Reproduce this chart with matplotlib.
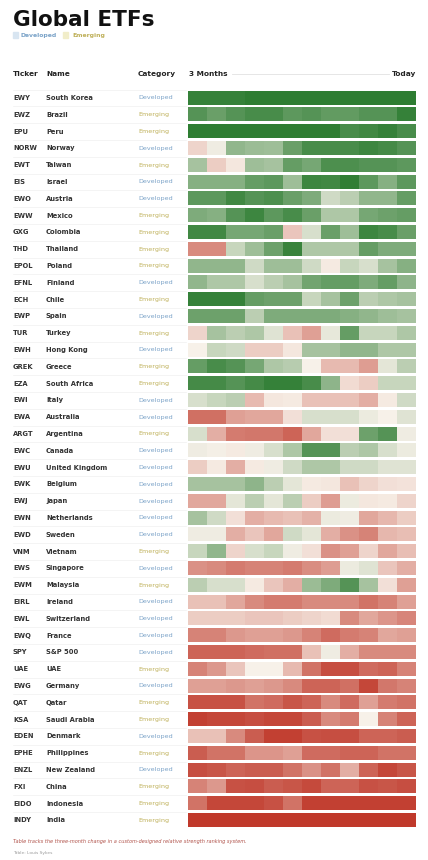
import numpy as np
import matplotlib
matplotlib.use("Agg")
import matplotlib.pyplot as plt
from matplotlib.colors import LinearSegmentedColormap, Normalize

plt.rcParams['font.family'] = ['DejaVu Sans']

tickers = ["EWY", "EWZ", "EPU", "NORW", "EWT", "EIS", "EWO", "EWW", "GXG", "THD",
           "EPOL", "EFNL", "ECH", "EWP", "TUR", "EWH", "GREK", "EZA", "EWI", "EWA",
           "ARGT", "EWC", "EWU", "EWK", "EWJ", "EWN", "EWD", "VNM", "EWS", "EWM",
           "EIRL", "EWL", "EWQ", "SPY", "UAE", "EWG", "QAT", "KSA", "EDEN", "EPHE",
           "ENZL", "FXI", "EIDO", "INDY"]
names = ["South Korea", "Brazil", "Peru", "Norway", "Taiwan", "Israel", "Austria", "Mexico",
         "Colombia", "Thailand", "Poland", "Finland", "Chile", "Spain", "Turkey", "Hong Kong",
         "Greece", "South Africa", "Italy", "Australia", "Argentina", "Canada", "United Kingdom",
         "Belgium", "Japan", "Netherlands", "Sweden", "Vietnam", "Singapore", "Malaysia",
         "Ireland", "Switzerland", "France", "S&P 500", "UAE", "Germany", "Qatar",
         "Saudi Arabia", "Denmark", "Philippines", "New Zealand", "China", "Indonesia", "India"]
categories = ["Developed", "Emerging", "Emerging", "Developed", "Emerging", "Developed",
              "Developed", "Emerging", "Emerging", "Emerging", "Emerging", "Developed",
              "Emerging", "Developed", "Emerging", "Developed", "Emerging", "Emerging",
              "Developed", "Developed", "Emerging", "Developed", "Developed", "Developed",
              "Developed", "Developed", "Developed", "Emerging", "Developed", "Emerging",
              "Developed", "Developed", "Developed", "Developed", "Emerging", "Developed",
              "Emerging", "Emerging", "Developed", "Emerging", "Developed", "Emerging",
              "Emerging", "Emerging"]

# relative-strength score per week (-5 weakest ... +5 strongest), 12 weeks
south_korea = [4.8, 4.8, 4.8, 5, 5, 5, 5, 5, 5, 5, 5, 5]
brazil = [4, 3.5, 4, 4.3, 4.3, 3.8, 4, 3.7, 3.7, 4, 4, 4.8]
peru = [5, 5, 5, 5, 5, 5, 5, 5, 4.3, 4.5, 4.8, 4.3]
norway = [-0.8, 0.2, 2.5, 2.3, 2.2, 3.5, 4.3, 4.3, 4.3, 4.6, 4.4, 4.0]
taiwan = [2, -1, -0.3, 2.2, 2, 3.6, 3.2, 4.2, 4.2, 4, 4, 3.8]
israel = [2.8, 2.8, 2.8, 3.6, 3.8, 2.2, 4.6, 4.5, 4.9, 3.8, 2.8, 3.8]
austria = [3.8, 3.8, 4.5, 4, 4.2, 3.5, 3, 1, 1.5, 2.5, 2.5, 3.6]
mexico = [3, 2.8, 4, 4.6, 3.8, 4.3, 3.5, 1.8, 1.8, 3.2, 3.4, 3.6]
colombia = [4.5, 4.5, 3.2, 3.2, 3.5, -1.2, 0.8, 3.5, 2.2, 4.6, 4.3, 3.5]
thailand = [-2.8, -2.8, 1.2, 2.2, 3.4, 4.7, 1.8, 1.8, 1.8, 3.6, 3, 3]
poland = [2.5, 2.5, 2.5, 1, 2.2, 2.2, 1, -0.2, 1.2, 0.8, 2, 2.8]
finland = [2.5, 1.8, 1.8, 0.8, 1.5, 2, 3.3, 3.6, 3.6, 3, 3.6, 2.6]
chile = [4.8, 4.8, 4.8, 3.6, 3.4, 3.4, 1.2, 2, 3.4, 1.5, 1.8, 2]
spain = [3.4, 3.4, 3.4, 1.5, 3, 3, 3, 3, 2.8, 2.5, 2.2, 2]
turkey = [-0.8, 2, 1.5, 1.8, 0.6, -1.3, -2.2, 0.4, 3.6, 1.2, 1.2, 1.8]
hong_kong = [0, 1.2, 1, -1, -1, -0.3, 2, 2, 2.5, 2.5, 1.8, 1.8]
greece = [3.6, 4.3, 4, 3.2, 1.8, 1.6, 0, -1.5, -1.5, -2.3, 0.5, 1.5]
south_africa = [4.4, 4.4, 4, 4.4, 4.8, 4.8, 4.3, 2.6, -0.6, -1, 1.2, 1.2]
italy = [0.8, 1.2, 1.5, -1.5, -0.3, -0.2, -1.3, -1.3, -1.3, -1.8, -0.2, 1]
australia = [-3.5, -3.5, -2.2, -2, -2, -0.5, 0.8, 0.8, 0.8, 0.3, 0, 0.6]
argentina = [0.8, -1.8, -3.2, -3.3, -3.3, -3.8, -2, -0.5, -0.5, 3.4, 4, 0.2]
canada = [0.2, 0.1, -0.2, 0.2, 0.8, 1.8, 4, 4, 1.5, 1.8, 0.8, 0.3]
united_kingdom = [-1, -0.2, -1.8, -0.2, 0.2, 1, 1.8, 1.8, 1, 1, 0.6, 0.6]
belgium = [2, 2, 2, 2.6, 1.5, 0.5, -0.2, -0.3, -1.3, -0.8, -0.5, -0.4]
japan = [-2, -2, 0.5, 1.5, 0.5, 1.5, -1, -2.3, 0.3, -0.3, -0.2, -0.8]
netherlands = [2, 1, -0.5, -1.8, -1.5, -1.3, -1.7, 0.3, 0.2, -2, -1.6, -1]
sweden = [0.2, 0.2, -1.8, -1.2, -2, 1, 0.5, -1.8, -2.6, -3, -1.6, -1.4]
vietnam = [1.2, 2.5, -0.8, 0.8, 1.2, 0.2, -0.5, -2.6, -2.2, -0.8, -2, -1.4]
singapore = [-2.6, -2.8, -3.2, -3, -3, -3.2, -2.7, -2.3, 0.3, 0.6, -1.2, -1.8]
malaysia = [1.5, 0.8, 0.8, -0.2, -1.2, -1.8, 2.3, 3, 4, 2, -0.5, -2.2]
ireland = [-1.3, -1.3, -2, -2.8, -3.2, -3.2, -2.8, -2.8, -2.8, -3.4, -3, -2.2]
switzerland = [-1, -1, -1, -1.2, -1.2, -1, -0.8, -0.6, -2.8, -2, -2.5, -2.9]
france = [-3, -3, -2.4, -2.2, -2.2, -2.4, -3, -3.6, -3.2, -3, -2, -2.2]
sp500 = [-3.8, -3.8, -3.8, -3.6, -3.5, -3.5, -1.3, 0.2, -1.8, -2.8, -2.8, -2.8]
uae = [-3, -2.4, -1.2, 0, 0, -1.5, -3.4, -4.4, -4.4, -3.6, -3.8, -3]
germany = [-2.2, -2.2, -2.4, -2.2, -2.4, -2.8, -3.8, -3.8, -3.5, -4.6, -3.3, -3]
qatar = [-4.3, -4.3, -4.3, -3.4, -3.6, -4.2, -3.8, -2.8, -3.6, -2.2, -3.2, -3.4]
saudi_arabia = [-4.8, -4.6, -4.6, -4.4, -4.6, -4.6, -4, -2.8, -3.2, 0, -3, -3.8]
denmark = [-1.3, -1.3, -2.8, -4, -4.8, -4.8, -4.3, -4.4, -4.4, -3.8, -3.8, -4]
philippines = [-4, -3.4, -3.4, -2.5, -2.5, -2.2, -3.6, -3.6, -3.8, -3.8, -3.4, -3.4]
new_zealand = [-4.4, -4.2, -3.8, -4, -4, -3.4, -2.6, -3.4, -1.8, -3.8, -4.6, -4.2]
china = [-3, -2.4, -4.3, -4.4, -4, -4.2, -4.5, -3.8, -3.8, -4.3, -4.2, -4.4]
indonesia = [-3.4, -4.6, -4.6, -4.6, -4.3, -3.4, -4.8, -4.8, -4.8, -4.8, -4.8, -4.8]
india = [-5, -5, -5, -5, -5, -5, -5, -5, -5, -5, -5, -5]

scores = [south_korea, brazil, peru, norway, taiwan, israel, austria, mexico, colombia,
          thailand, poland, finland, chile, spain, turkey, hong_kong, greece, south_africa,
          italy, australia, argentina, canada, united_kingdom, belgium, japan, netherlands,
          sweden, vietnam, singapore, malaysia, ireland, switzerland, france, sp500, uae,
          germany, qatar, saudi_arabia, denmark, philippines, new_zealand, china, indonesia,
          india]

W, H = 428, 860
fig = plt.figure(figsize=(W / 100, H / 100), dpi=100)
ax = fig.add_axes([0, 0, 1, 1])
ax.set_xlim(0, W)
ax.set_ylim(H, 0)
ax.axis("off")

cmap = LinearSegmentedColormap.from_list(
    "rs", [(0.0, "#c0392b"), (0.5, "#f8f2ea"), (1.0, "#2e7d32")])
norm = Normalize(-5, 5)

dev_col = "#7ba3c8"
emg_col = "#bfb05a"
cat_col = {"Developed": dev_col, "Emerging": emg_col}
txt = "#222222"

# Title & legend
ax.text(13, 26, "Global ETFs", fontsize=15.5, fontweight="bold", color="#111111",
        va="baseline", ha="left")
ax.add_patch(plt.Rectangle((13, 31.5), 5, 6, color="#d8e5f1"))
ax.text(21, 35, "Developed", fontsize=4.4, color=dev_col, va="center", fontweight="bold")
ax.add_patch(plt.Rectangle((63, 31.5), 5, 6, color="#f1edc9"))
ax.text(72, 35, "Emerging", fontsize=4.4, color=emg_col, va="center", fontweight="bold")

# Header
hy = 74
ax.text(13, hy, "Ticker", fontsize=5.3, fontweight="bold", color=txt, va="center")
ax.text(46, hy, "Name", fontsize=5.3, fontweight="bold", color=txt, va="center")
ax.text(138, hy, "Category", fontsize=5.3, fontweight="bold", color=txt, va="center")
ax.text(189, hy, "3 Months", fontsize=5.3, fontweight="bold", color=txt, va="center")
ax.text(416, hy, "Today", fontsize=5.3, fontweight="bold", color=txt, va="center", ha="right")
ax.plot([232, 389], [hy, hy], color="#e2e2e2", lw=0.6)

y0, pitch = 98, 16.8
n = len(tickers)
for i in range(n):
    y = y0 + pitch * i
    ax.text(13, y, tickers[i], fontsize=4.9, fontweight="bold", color="#333333", va="center")
    ax.text(46, y, names[i], fontsize=4.9, fontweight="bold", color="#333333", va="center")
    ax.text(138, y, categories[i], fontsize=4.6, color=cat_col[categories[i]], va="center")
    ax.plot([13, 186], [y - pitch / 2, y - pitch / 2], color="#f0f0f0", lw=0.5)

# Heatmap axes
top = y0 - pitch / 2
bottom = y0 + pitch * (n - 1) + pitch / 2
hax = fig.add_axes([188 / W, 1 - bottom / H, 228 / W, (bottom - top) / H])
hax.set_xlim(0, 12)
hax.set_ylim(n - 0.5, -0.5)
hax.axis("off")
for i, row in enumerate(scores):
    arr = np.array(row, dtype=float)[None, :]
    hax.imshow(arr, cmap=cmap, norm=norm, aspect="auto", interpolation="nearest",
               extent=(0, len(row), i + 0.39, i - 0.39))
hax.set_xlim(0, 12)
hax.set_ylim(n - 0.5, -0.5)

# Footer
ax.text(13, 842, "Table tracks the three-month change in a custom-designed relative strength ranking system.",
        fontsize=3.6, style="italic", color="#b0524a", va="center")
ax.text(13, 853, "Table: Louis Sykes", fontsize=3.2, color="#999999", va="center")

fig.savefig("out.png", dpi=100, facecolor="white")
